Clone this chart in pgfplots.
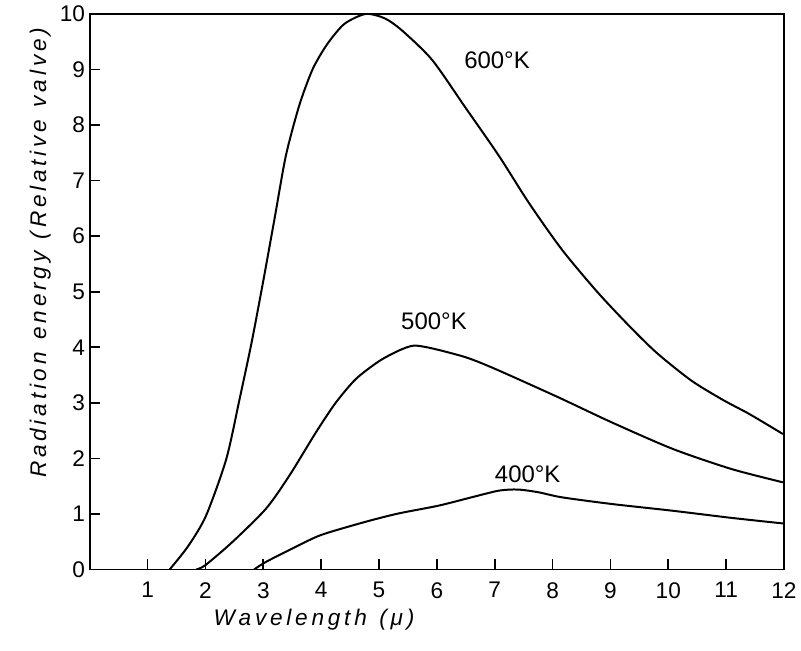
\documentclass[border=0pt]{standalone}
\usepackage{fontspec}
\setmainfont{Liberation Sans}
\usepackage{pgfplots}
\pgfplotsset{compat=1.18}
\begin{document}
\begin{tikzpicture}
\begin{axis}[
  name=ax,
  scale only axis,
  width=522pt, height=417.75pt,
  xmin=0, xmax=12, ymin=0, ymax=10,
  xtick={1,...,12}, ytick={0,...,10},
  xticklabels={1,2,3,4,5,6,7,8,9,10,11,12},
  yticklabels={0,1,2,3,4,5,6,7,8,9,10},
  xtick pos=bottom, ytick pos=left,
  xtick align=inside, ytick align=inside,
  tickwidth=8pt,
  xtick style={draw=black, line width=1.3pt},
  ytick style={draw=black, line width=1.3pt},
  ticklabel style={font=\fontsize{17}{20}\selectfont},
  xticklabel style={yshift=-6pt},
  xlabel={\itshape W\,a\,v\,e\,l\,e\,n\,g\,t\,h\ \ (\,μ\,)},
  ylabel={\itshape R\,a\,d\,i\,a\,t\,i\,o\,n\ \ e\,n\,e\,r\,g\,y\ \ (\,R\,e\,l\,a\,t\,i\,v\,e\ \ v\,a\,l\,v\,e\,)},
  xlabel style={font=\fontsize{17}{20}\selectfont, at={(ticklabel cs:0.323)}, anchor=north, yshift=-1pt},
  ylabel style={font=\fontsize{17}{20}\selectfont, at={(ticklabel cs:0.57)}, anchor=south, yshift=0pt},
]
\addplot[black, line width=1.5pt, smooth, tension=0.45, mark=none] coordinates {
(1.38,0) (1.7,0.42) (2.01,0.97) (2.36,1.99) (2.59,3.07) (2.8,4.1) (3.0,5.2) (3.2,6.35)
(3.39,7.45) (3.62,8.35) (3.85,9.0) (4.1,9.45) (4.4,9.82) (4.77,10.0) (5.1,9.92) (5.4,9.7) (5.92,9.17)
(6.49,8.32) (7.07,7.45) (7.59,6.6) (8.16,5.76) (8.77,5.0) (9.31,4.4) (9.8,3.9)
(10.4,3.4) (10.95,3.05) (11.4,2.8) (11.98,2.44)
};
\addplot[black, line width=1.5pt, smooth, tension=0.45, mark=none] coordinates {
(1.84,0) (2.0,0.08) (2.47,0.5) (3.05,1.1) (3.45,1.69) (3.91,2.47) (4.25,3.0)
(4.6,3.43) (5.0,3.75) (5.34,3.94) (5.6,4.03) (5.92,3.98) (6.5,3.82) (7.01,3.61) (8.1,3.1)
(9.02,2.65) (10.08,2.17) (11.09,1.81) (11.98,1.57)
};
\addplot[black, line width=1.5pt, smooth, tension=0.45, mark=none] coordinates {
(2.84,0) (3.05,0.14) (3.62,0.44) (4.02,0.63) (4.77,0.86) (5.34,1.01) (6.03,1.15)
(6.6,1.3) (7.07,1.42) (7.4,1.44) (7.76,1.39) (8.16,1.3) (9.02,1.18) (10.06,1.06)
(11.09,0.93) (11.98,0.83)
};
\node[font=\fontsize{18}{20}\selectfont] at (axis cs:7.04,9.16) {600°K};
\node[font=\fontsize{18}{20}\selectfont] at (axis cs:5.95,4.47) {500°K};
\node[font=\fontsize{18}{20}\selectfont] at (axis cs:7.57,1.71) {400°K};
\end{axis}
\draw[line width=1.4pt] (ax.south west) rectangle (ax.north east);
\path ([xshift=-67.5pt,yshift=-60.75pt]ax.south west) ([xshift=11.25pt,yshift=10.5pt]ax.north east);
\end{tikzpicture}
\end{document}
